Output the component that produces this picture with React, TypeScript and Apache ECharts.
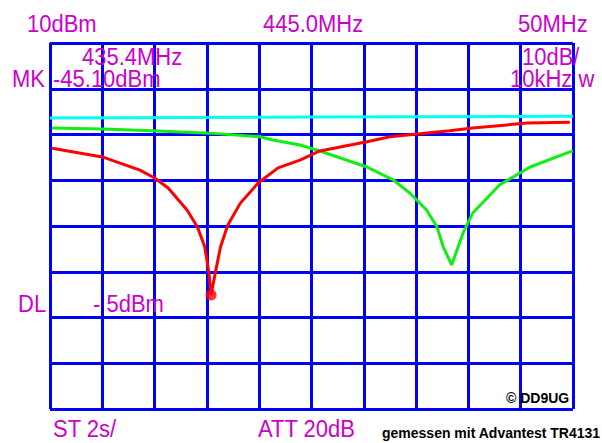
import React, { useEffect, useRef } from "react";
import * as echarts from "echarts";

// Frequency axis: centre 445.0 MHz, span 50 MHz (5 MHz/div)
const freqMin = 420;
const freqMax = 470;
const freqStep = 5;
// Level axis: reference 10 dBm, 10 dB/div, 8 divisions
const levelMin = -70;
const levelMax = 10;
const levelStep = 10;

// Cyan trace (reference / through level)
const cyanFreq = [420, 445, 470];
const cyanLevel = [-6.4, -6.2, -6.0];

// Green trace (notch near 458.4 MHz)
const greenFreq = [420.2, 425.0, 429.8, 435.3, 440.1, 441.3, 443.9, 445.8, 450.3, 452.8, 454.4, 456.0, 457.0, 457.6, 458.4, 459.5, 460.4, 463.0, 465.9, 469.7, 470];
const greenLevel = [-8.6, -8.8, -9.2, -9.7, -10.5, -11.2, -12.3, -13.6, -17.1, -19.9, -22.8, -26.5, -30.2, -34.6, -38.5, -31.5, -27.2, -21.0, -17.1, -13.8, -13.6];

// Red trace (notch at marker 435.4 MHz)
const redFreq = [420.2, 425.0, 428.6, 430.0, 431.3, 433.1, 434.1, 434.8, 435.2, 435.4, 435.8, 436.3, 437.0, 438.2, 439.9, 441.8, 443.9, 445.8, 450.3, 452.5, 458.2, 460.4, 465.6, 469.7];
const redLevel = [-13.0, -14.9, -17.8, -19.5, -21.7, -26.5, -30.2, -34.6, -40.3, -45.1, -40.3, -34.6, -29.8, -25.0, -20.6, -17.3, -15.6, -13.6, -11.6, -10.5, -9.2, -8.6, -7.5, -7.3];

// Marker
const markerFreq = 435.4;
const markerLevel = -45.1;

// Screen annotations
const topTexts = ["10dBm", "445.0MHz", "50MHz"];
const markerTexts = ["435.4MHz", "MK", "-45.10dBm"];
const rbwTexts = ["10dB/", "10kHz w"];
const dlTexts = ["DL", "- 5dBm"];
const bottomTexts = ["ST 2s/", "ATT 20dB"];
const creditTexts = ["gemessen mit Advantest TR4131", "\u00a9 DD9UG"];

const MAG = "#cc00cc";
const BLUE = "#0000ff";

function zip(xs: number[], ys: number[]) {
  return xs.map((x, i) => [x, ys[i]]);
}

function magText(text: string, x: number, y: number) {
  return {
    type: "text",
    x,
    y,
    scaleY: 1.12,
    style: {
      text,
      fill: MAG,
      font: "22px 'Liberation Sans', Arial, sans-serif",
      verticalAlign: "middle",
      align: "left",
    },
    z: 10,
  };
}

function blackText(text: string, x: number, y: number) {
  return {
    type: "text",
    x,
    y,
    style: {
      text,
      fill: "#000",
      font: "bold 14px 'Liberation Sans', Arial, sans-serif",
      verticalAlign: "middle",
      align: "left",
    },
    z: 10,
  };
}

export default function App() {
  const ref = useRef<HTMLDivElement>(null);
  useEffect(() => {
    if (!ref.current) return;
    const chart = echarts.init(ref.current, null, { renderer: "svg" });
    const lineSeries = (name: string, data: number[][], color: string, width: number) => ({
      name,
      type: "line",
      data,
      showSymbol: false,
      symbol: "none",
      smooth: false,
      lineStyle: { color, width },
      z: 5,
    });
    chart.setOption({
      animation: false,
      backgroundColor: "#ffffff",
      grid: { left: 50, right: 29, top: 43, bottom: 34, containLabel: false, outerBoundsMode: "none" },
      xAxis: {
        type: "value",
        min: freqMin,
        max: freqMax,
        interval: freqStep,
        axisLabel: { show: false },
        axisTick: { show: false },
        axisLine: { show: false },
        splitLine: { show: true, lineStyle: { color: BLUE, width: 3 } },
      },
      yAxis: {
        type: "value",
        min: levelMin,
        max: levelMax,
        interval: levelStep,
        axisLabel: { show: false },
        axisTick: { show: false },
        axisLine: { show: false },
        splitLine: { show: true, lineStyle: { color: BLUE, width: 3 } },
      },
      series: [
        lineSeries("cyan", zip(cyanFreq, cyanLevel), "#00ffff", 3),
        lineSeries("green", zip(greenFreq, greenLevel), "#11ee11", 3),
        lineSeries("red", zip(redFreq, redLevel), "#ff0000", 3),
        {
          name: "marker",
          type: "scatter",
          data: [[markerFreq, markerLevel]],
          symbol: "circle",
          symbolSize: 11,
          itemStyle: { color: "#ff0000" },
          z: 6,
        },
      ],
      graphic: [
        magText(topTexts[0], 27, 24),
        magText(topTexts[1], 263, 24),
        magText(topTexts[2], 518, 24),
        magText(markerTexts[0], 82, 57),
        magText(markerTexts[1], 12, 79),
        magText(markerTexts[2], 53, 79),
        magText(rbwTexts[0], 522, 57),
        magText(rbwTexts[1], 510, 79),
        magText(dlTexts[0], 18, 304),
        magText(dlTexts[1], 93, 304),
        magText(bottomTexts[0], 53, 429),
        magText(bottomTexts[1], 258, 429),
        blackText(creditTexts[0], 382, 433),
        blackText(creditTexts[1], 506, 398),
      ],
    });
    return () => chart.dispose();
  }, []);
  return (
    <div
      ref={ref}
      style={{ position: "fixed", left: 0, top: 0, width: 602, height: 443 }}
    />
  );
}
